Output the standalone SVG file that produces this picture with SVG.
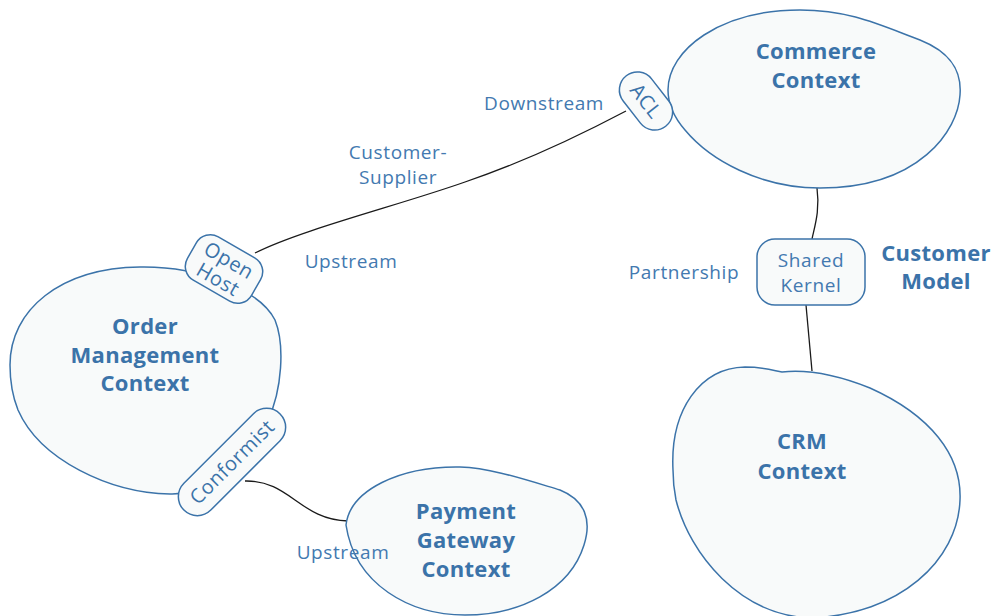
<svg xmlns="http://www.w3.org/2000/svg" width="993" height="616" viewBox="0 0 993 616">
<style>
.blob{fill:#f8fafa;stroke:#3b73a9;stroke-width:1.5}
.pill{fill:#f8fafa;stroke:#3b73a9;stroke-width:1.5}
.title{font-family:"Open Sans","Noto Sans",sans-serif;font-weight:bold;font-size:22px;letter-spacing:0.3px;fill:#3b73a9;text-anchor:middle}
.lbl{font-family:"Open Sans","Noto Sans",sans-serif;font-size:19px;letter-spacing:0.6px;fill:#4379b0;text-anchor:middle}
.ptxt{font-family:"Open Sans","Noto Sans",sans-serif;font-size:20px;letter-spacing:0.6px;fill:#3b73a9;text-anchor:middle}
.conn{fill:none;stroke:#1a1a1a;stroke-width:1.3}
</style>
<rect width="993" height="616" fill="#ffffff"/>
<g id="connectors">
<path class="conn" d="M255,253 C300,230 400,205 465,182 C530,160 590,130 626,111"/>
<path class="conn" d="M817,188 C820,210 815,225 812,239"/>
<path class="conn" d="M806,305 L812,371"/>
<path class="conn" d="M245,481 C290,480 300,520 348,521"/>
</g>
<g id="commerce">
<path class="blob" d="M668,90 C668,50 720,10 800,10 C850,10 880,25 920,40 C950,52 962,70 960,95 C958,130 920,188 820,188 C760,188 710,160 685,130 C672,115 668,100 668,90 Z"/>
<text class="title" x="816" y="59">Commerce</text>
<text class="title" x="816" y="88">Context</text>
</g>
<g id="order">
<path class="blob" d="M10,365 C10,310 60,268 140,267 C200,266 260,290 275,320 C285,345 282,390 268,420 C250,460 220,495 170,494 C110,493 40,460 18,410 C12,395 10,380 10,365 Z"/>
<text class="title" x="145" y="334">Order</text>
<text class="title" x="145" y="363">Management</text>
<text class="title" x="145" y="391">Context</text>
</g>
<g id="payment">
<path class="blob" d="M346,525 C350,490 400,466 460,467 C490,468 520,478 560,490 C585,500 592,520 584,545 C570,590 520,615 465,615 C410,615 355,585 346,525 Z"/>
<text class="title" x="466" y="519">Payment</text>
<text class="title" x="466" y="548">Gateway</text>
<text class="title" x="466" y="577">Context</text>
</g>
<g id="crm">
<path class="blob" d="M673,470 C670,410 700,368 745,367 C765,367 775,371 782,372 C800,370 830,372 870,388 C930,415 962,455 960,500 C958,560 900,615 810,618 C740,615 690,555 676,500 C674,490 673,480 673,470 Z"/>
<text class="title" x="802" y="449">CRM</text>
<text class="title" x="802" y="479">Context</text>
</g>
<g id="customer-model">
<text class="title" x="936" y="261">Customer</text>
<text class="title" x="936" y="289">Model</text>
</g>
<g id="acl" transform="translate(646,101) rotate(52)">
<rect class="pill" x="-32" y="-18" width="64" height="36" rx="18"/>
<text class="ptxt" x="0" y="7">ACL</text>
</g>
<g id="open-host" transform="translate(224,269) rotate(30)">
<rect class="pill" x="-37" y="-25" width="74" height="50" rx="16"/>
<text class="ptxt" x="0" y="-3">Open</text>
<text class="ptxt" x="0" y="19">Host</text>
</g>
<g id="conformist" transform="translate(232,462) rotate(-45)">
<rect class="pill" x="-68" y="-19" width="136" height="38" rx="19"/>
<text class="ptxt" x="0" y="7">Conformist</text>
</g>
<g id="shared-kernel">
<rect class="pill" x="757" y="239" width="108" height="66" rx="18"/>
<text class="lbl" x="811" y="267">Shared</text>
<text class="lbl" x="811" y="292">Kernel</text>
</g>
<g id="labels">
<text class="lbl" x="544" y="110">Downstream</text>
<text class="lbl" x="398" y="159">Customer-</text>
<text class="lbl" x="398" y="184">Supplier</text>
<text class="lbl" x="351" y="268">Upstream</text>
<text class="lbl" x="684" y="279">Partnership</text>
<text class="lbl" x="343" y="559">Upstream</text>
</g>
</svg>
